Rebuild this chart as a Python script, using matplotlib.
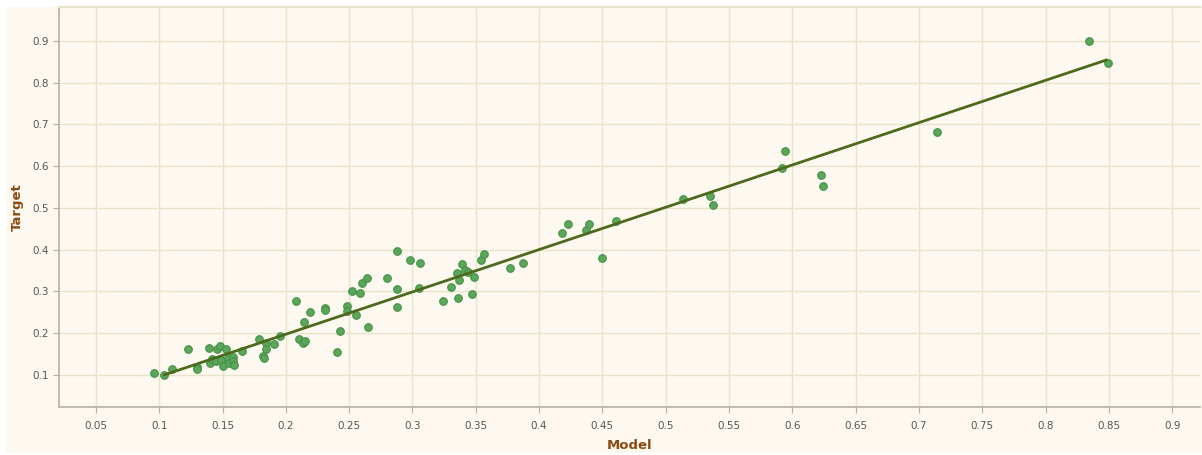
import matplotlib
matplotlib.use("Agg")
import matplotlib.pyplot as plt
from matplotlib.patches import Rectangle

# Model (x) vs Target (y)
MODEL = [0.0958, 0.1035, 0.110, 0.123, 0.130, 0.130, 0.139, 0.140, 0.1416, 0.1453,
         0.148, 0.145, 0.149, 0.1506, 0.153, 0.154, 0.155, 0.158, 0.158, 0.159,
         0.165, 0.1785, 0.184, 0.184, 0.182, 0.1827, 0.1906, 0.195, 0.2077, 0.2106,
         0.2133, 0.215, 0.2143, 0.2193, 0.2306, 0.2306, 0.240, 0.2427, 0.2485, 0.248,
         0.255, 0.2525, 0.2583, 0.260, 0.264, 0.2648, 0.2796, 0.2875, 0.288, 0.2875,
         0.298, 0.306, 0.3054, 0.324, 0.3306, 0.3354, 0.3367, 0.3388, 0.3357, 0.3415,
         0.344, 0.3486, 0.347, 0.3543, 0.3567, 0.377, 0.387, 0.4178, 0.423, 0.4368,
         0.4392, 0.450, 0.461, 0.5139, 0.5353, 0.5375, 0.5922, 0.5941, 0.6224, 0.624,
         0.7139, 0.8347, 0.8492]
TARGET = [0.105, 0.100, 0.113, 0.162, 0.119, 0.114, 0.165, 0.128, 0.137, 0.163,
          0.168, 0.132, 0.136, 0.120, 0.162, 0.140, 0.128, 0.142, 0.134, 0.123,
          0.158, 0.186, 0.177, 0.163, 0.146, 0.141, 0.174, 0.193, 0.2765, 0.187,
          0.176, 0.181, 0.227, 0.2516, 0.261, 0.2564, 0.155, 0.2046, 0.266, 0.254,
          0.2445, 0.301, 0.2956, 0.321, 0.333, 0.214, 0.333, 0.305, 0.2636, 0.397,
          0.375, 0.367, 0.308, 0.2765, 0.311, 0.3436, 0.3275, 0.366, 0.2844, 0.3515,
          0.346, 0.334, 0.294, 0.3755, 0.390, 0.3555, 0.368, 0.4394, 0.4617, 0.4466,
          0.4624, 0.380, 0.4696, 0.521, 0.529, 0.5056, 0.595, 0.6368, 0.5776, 0.5528,
          0.6816, 0.900, 0.8472]

# regression line end points
FIT_X = [0.104, 0.848]
FIT_Y = [0.100, 0.854]

X_TICKS = [0.05, 0.1, 0.15, 0.2, 0.25, 0.3, 0.35, 0.4, 0.45, 0.5,
           0.55, 0.6, 0.65, 0.7, 0.75, 0.8, 0.85, 0.9]
Y_TICKS = [0.1, 0.2, 0.3, 0.4, 0.5, 0.6, 0.7, 0.8, 0.9]

BG = "#fdf9f0"
GRID = "#e9e3cb"
BROWN = "#8a4b12"

fig = plt.figure(figsize=(12.02, 4.55), dpi=100, facecolor="white")
fig.patches.append(Rectangle((6 / 1202, 2 / 455), 1, 446 / 455, transform=fig.transFigure,
                             facecolor=BG, edgecolor="none", zorder=-10))
ax = fig.add_axes([59 / 1202, 48 / 455, 1141 / 1202, 400 / 455])
ax.set_facecolor(BG)

ax.set_xlim(0.0208, 0.922)
ax.set_ylim(0.023, 0.981)
ax.set_xticks(X_TICKS)
ax.set_xticklabels([f"{v:g}" for v in X_TICKS])
ax.set_yticks(Y_TICKS)
ax.set_yticklabels([f"{v:g}" for v in Y_TICKS])
ax.grid(True, color=GRID, linewidth=1.0)
ax.set_axisbelow(True)

ax.spines["right"].set_visible(False)
ax.spines["top"].set_color(GRID)
ax.spines["top"].set_linewidth(1.5)
for s in ("left", "bottom"):
    ax.spines[s].set_color("#b5b0a5")
    ax.spines[s].set_linewidth(1.2)
ax.tick_params(axis="both", colors="#b5b0a5", labelcolor="#555555",
               labelsize=7.5, length=4)
ax.tick_params(axis="x", pad=6)

ax.scatter(MODEL, TARGET, s=30, color="#5ba75a", edgecolors="#46904a",
           linewidths=0.8, zorder=3)
ax.plot(FIT_X, FIT_Y, color="#4d6a1c", linewidth=2.0, zorder=4)

ax.set_xlabel("Model", color=BROWN, fontweight="bold", fontsize=9.5, labelpad=6)
ax.set_ylabel("Target", color=BROWN, fontweight="bold", fontsize=9.5, labelpad=6)

fig.savefig("out.png", dpi=100, facecolor=fig.get_facecolor())
